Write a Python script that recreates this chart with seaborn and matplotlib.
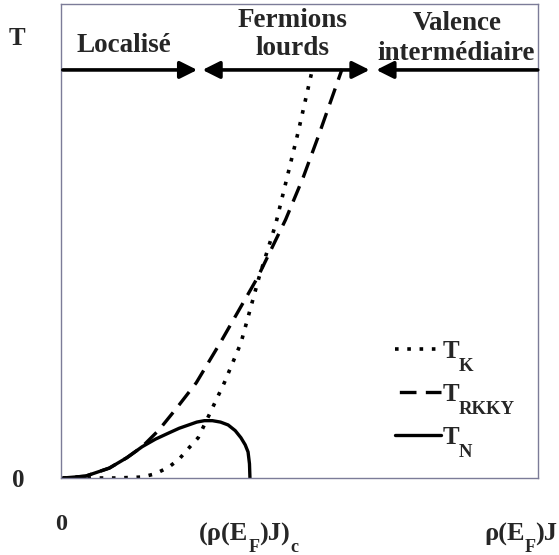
"""
    Doniach phase diagram: T_K, T_RKKY and T_N versus rho(E_F)J
"""
import matplotlib
matplotlib.use('Agg')
import matplotlib.pyplot as plt
import seaborn as sns
import pandas as pd

# curves (x and T both on a 0-100 scale)
tn_x = [0, 4.8, 9.8, 13.5, 16.7, 19.5, 22.3, 24.5, 26.5, 28.2, 29.8, 31.5, 33.2, 34.8, 36.3, 37.5, 38.4, 39.0, 39.3, 39.4]
tn_y = [0, 0.4, 2.1, 4.3, 6.6, 8.2, 9.5, 10.5, 11.2, 11.8, 12.1, 12.1, 11.8, 11.2, 10.0, 8.5, 7.0, 5.5, 3.0, 0]

tk_x = [0, 11.0, 16.7, 19.5, 22.3, 24.5, 26.5, 28.5, 30.8, 34.0, 37.5, 41.3, 44.8, 49.6, 52.7]
tk_y = [0, 0, 0.2, 0.9, 2.3, 4.0, 6.3, 8.5, 13.3, 20.1, 28.5, 42.3, 53.5, 73.2, 86.9]

trkky_x = [0, 4.8, 9.8, 13.5, 16.7, 20.2, 24.0, 28.1, 33.3, 41.0, 46.9, 50.6, 53.8, 58.8]
trkky_y = [0, 0.4, 2.1, 4.3, 6.6, 10.1, 14.8, 20.1, 28.8, 42.3, 54.5, 63.4, 72.1, 86.3]

legend_main = ['T', 'T', 'T']
legend_subs = ['K', 'RKKY', 'N']

# regimes along the top of the chart (one entry per text line)
region_lines = ['Localisé', 'Fermions', 'lourds', 'Valence', 'intermédiaire']
region_x = [12.9, 48.4, 48.4, 83.0, 82.8]
region_y = [89.9, 95.2, 89.2, 94.5, 88.2]
region_edges = [0, 28.3, 29.4, 64.6, 66.0, 100]
arrow_y = 86.1

# axis labels
ytick_pos = [0, 93.2]
ytick_labels = ['0', 'T']
xtick_pos = [-0.4]
xtick_labels = ['0']
xlab_x = [28.7, 88.7]
xlab_parts = [['(ρ(E', 'F', ')J)', 'c'], ['ρ(E', 'F', ')J']]

sns.set_style('white')
plt.rcParams['font.family'] = ['Liberation Serif', 'DejaVu Serif']
plt.rcParams['font.weight'] = 'bold'

fig = plt.figure(figsize=(5.59, 5.55), dpi=100)
ax = fig.add_axes([0.109, 0.1387, 0.853, 0.854])

df_k = pd.DataFrame({'x': tk_x, 'T': tk_y})
df_r = pd.DataFrame({'x': trkky_x, 'T': trkky_y})
df_n = pd.DataFrame({'x': tn_x, 'T': tn_y})

sns.lineplot(data=df_k, x='x', y='T', ax=ax, color='black', lw=2.6,
             linestyle=(0, (1, 2.4)), sort=False, estimator=None,
             label=legend_main[0])
sns.lineplot(data=df_r, x='x', y='T', ax=ax, color='black', lw=2.4,
             linestyle=(4, (5, 2.8)), sort=False, estimator=None,
             label=legend_main[1])
sns.lineplot(data=df_n, x='x', y='T', ax=ax, color='black', lw=2.4,
             sort=False, estimator=None, label=legend_main[2])

# regime arrows
arrow_kw = dict(color='black', lw=2.6, shrinkA=0, shrinkB=0, mutation_scale=26)
ax.annotate('', xy=(region_edges[1], arrow_y), xytext=(region_edges[0], arrow_y),
            arrowprops=dict(arrowstyle='-|>', **arrow_kw))
ax.annotate('', xy=(region_edges[3], arrow_y), xytext=(region_edges[2], arrow_y),
            arrowprops=dict(arrowstyle='<|-|>', **arrow_kw))
ax.annotate('', xy=(region_edges[4], arrow_y), xytext=(region_edges[5], arrow_y),
            arrowprops=dict(arrowstyle='-|>', **arrow_kw))

for name, tx, ty in zip(region_lines, region_x, region_y):
    ax.text(tx, ty, name, ha='center', va='baseline', fontsize=19.5,
            fontweight='bold')

ax.set_xlim(0, 100)
ax.set_ylim(0, 100)
ax.set_xticks(xtick_pos)
ax.set_xticklabels(xtick_labels, fontsize=17.5, fontweight='bold')
ax.set_yticks(ytick_pos)
ax.set_yticklabels(ytick_labels, fontsize=18, fontweight='bold')
ax.tick_params(axis='x', length=0, pad=26)
ax.tick_params(axis='y', length=0, pad=26)
ax.set_xlabel('')
ax.set_ylabel('')
for sp in ax.spines.values():
    sp.set_color('#7c7c98')
    sp.set_linewidth(1.0)


def chain_text(ax, x, y, parts, size, sub_size, transform):
    """main text followed by alternating low subscripts"""
    base = ax.text(x, y, parts[0], transform=transform, ha='left',
                   va='baseline', fontsize=size, fontweight='bold')
    prev = base
    for i, part in enumerate(parts[1:]):
        if i % 2 == 0:
            prev = ax.annotate(part, xy=(1, 0.3), xycoords=prev, ha='left',
                               va='top', fontsize=sub_size, fontweight='bold')
        else:
            prev = ax.annotate(part, xy=(1, 0), xycoords=(prev, base),
                               ha='left', va='bottom', fontsize=size,
                               fontweight='bold')


for lx, parts in zip(xlab_x, xlab_parts):
    chain_text(ax, lx, -0.131, parts, 19, 13, ax.get_xaxis_transform())

leg = ax.legend(loc='upper left', bbox_to_anchor=(0.70, 0.292), frameon=False,
                fontsize=18, handlelength=1.85, handletextpad=0.05,
                labelspacing=0.8, borderpad=0, borderaxespad=0)
# the dashed sample starts with a gap, as in the original
leg.legend_handles[1].set_linestyle((6.5, (5, 2.8)))
for txt, sub in zip(leg.get_texts(), legend_subs):
    ax.annotate(sub, xy=(1, 0.2), xycoords=txt, ha='left', va='top',
                fontsize=13.5, fontweight='bold', zorder=10)

fig.canvas.draw()
fig.savefig('out.png', dpi=100)
